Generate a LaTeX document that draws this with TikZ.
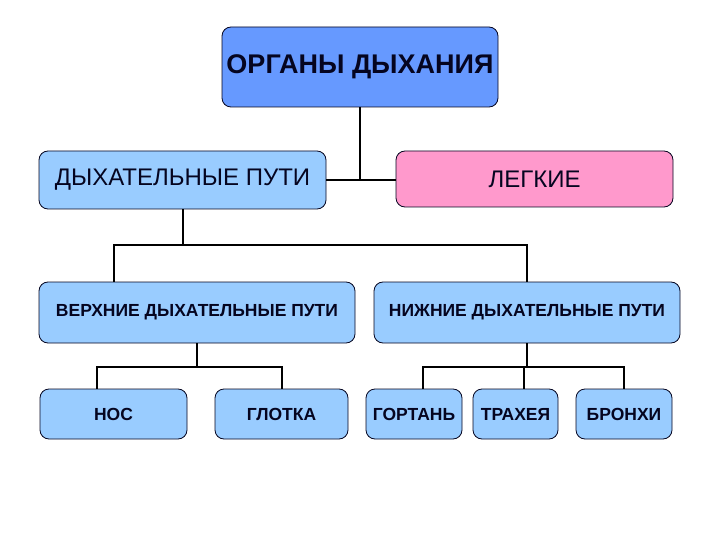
\documentclass[tikz,border=0pt]{standalone}
\usepackage{fontspec}
\setmainfont{Liberation Sans}
\definecolor{organblue}{HTML}{6699FF}
\definecolor{pathblue}{HTML}{99CCFF}
\definecolor{lungpink}{HTML}{FF99CC}
\definecolor{inkblue}{HTML}{050520}
\begin{document}
\begin{tikzpicture}[x=1pt,y=-1pt,
        organ/.style={draw=inkblue,line width=0.8pt,rounded corners=9pt,inner sep=1pt,text=inkblue},
        link/.style={draw=black,line width=2pt}]
                \useasboundingbox (0,0) rectangle (720,540);
                \node[organ,fill=organblue,minimum width=276pt,minimum height=80pt,font=\bfseries\fontsize{27}{30}\selectfont] (organs) at (360,67) {ОРГАНЫ ДЫХАНИЯ};

                \node[organ,fill=pathblue,minimum width=287pt,minimum height=58pt,font=\fontsize{24}{27}\selectfont] (airways) at (182.5,180) {ДЫХАТЕЛЬНЫЕ ПУТИ};
                \node[organ,fill=lungpink,minimum width=277pt,minimum height=56pt,font=\fontsize{24}{27}\selectfont] (lungs) at (534.5,179) {ЛЕГКИЕ};

                \node[organ,fill=pathblue,minimum width=316pt,minimum height=61pt,font=\bfseries\fontsize{17.5}{20}\selectfont] (upper) at (197,312.5) {ВЕРХНИЕ ДЫХАТЕЛЬНЫЕ ПУТИ};
                \node[organ,fill=pathblue,minimum width=306pt,minimum height=61pt,font=\bfseries\fontsize{17.5}{20}\selectfont] (lower) at (527,312.5) {НИЖНИЕ ДЫХАТЕЛЬНЫЕ ПУТИ};

                \node[organ,fill=pathblue,minimum width=147pt,minimum height=50pt,font=\bfseries\fontsize{17.5}{20}\selectfont] (nose) at (113.5,414) {НОС};
                \node[organ,fill=pathblue,minimum width=133pt,minimum height=50pt,font=\bfseries\fontsize{17.5}{20}\selectfont] (pharynx) at (281.5,414) {ГЛОТКА};
                \node[organ,fill=pathblue,minimum width=96pt,minimum height=50pt,font=\bfseries\fontsize{17.5}{20}\selectfont] (larynx) at (414,414) {ГОРТАНЬ};
                \node[organ,fill=pathblue,minimum width=85pt,minimum height=50pt,font=\bfseries\fontsize{17.5}{20}\selectfont] (trachea) at (515.5,414) {ТРАХЕЯ};
                \node[organ,fill=pathblue,minimum width=96pt,minimum height=50pt,font=\bfseries\fontsize{17.5}{20}\selectfont] (bronchi) at (624,414) {БРОНХИ};

                \coordinate (split1) at (182.5,245);
                \coordinate (split2) at (197,367);
                \coordinate (split3) at (527,367);

                \draw[link] (organs.south) -- (organs.south |- airways.east);
                \draw[link] (airways.east) -- (airways.east -| lungs.west);

                \draw[link] (airways.south) -- (split1);
                \draw[link] ([xshift=-83pt]upper.north) |- (split1) -| (lower.north);

                \draw[link] (upper.south) -- (split2);
                \draw[link] ([xshift=-17pt]nose.north) |- (split2) -| (pharynx.north);

                \draw[link] (lower.south) -- (split3);
                \draw[link] ([xshift=9pt]larynx.north) |- (split3) -| (bronchi.north);
                \draw[link] ([xshift=8.5pt]trachea.north) -- ([xshift=8.5pt]trachea.north |- split3);
\end{tikzpicture}
\end{document}
